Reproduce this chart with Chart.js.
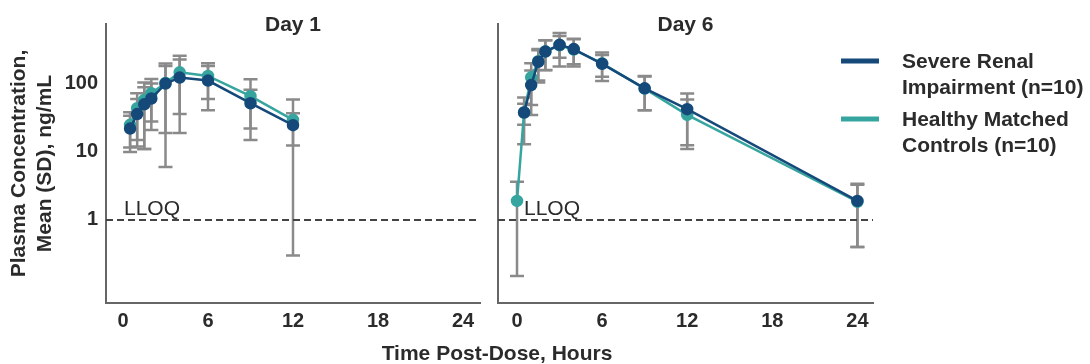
<!DOCTYPE html>
<html>
<head>
<meta charset="utf-8">
<script src="https://cdn.jsdelivr.net/npm/chart.js@4.4.1/dist/chart.umd.min.js"></script>
<style>
  html, body { margin: 0; padding: 0; background: #fff; }
  #wrap { position: relative; width: 1090px; height: 364px; }
  #wrap canvas { position: absolute; left: 0; top: 0; }
</style>
</head>
<body>
<div id="wrap">
  <canvas id="day1" width="1090" height="364"></canvas>
  <canvas id="day6" width="1090" height="364"></canvas>
</div>
<script>
// data (mean and SD, ng/mL)
const seriesNames = [['Severe Renal', 'Impairment (n=10)'], ['Healthy Matched', 'Controls (n=10)']];
const panelTitles = ['Day 1', 'Day 6'];
const xTicks = [0, 6, 12, 18, 24];
const yTicks = [1, 10, 100];

const day1Times = [0.5, 1, 1.5, 2, 3, 4, 6, 9, 12];
const day1Renal = [22, 36, 50, 61, 101, 124, 112, 52, 24.7];
const day1RenalSd = [12, 24, 39, 40, 82, 105, 71, 30, 12.3];
const day1Healthy = [25, 44, 58, 73, 103, 148, 131, 66, 29.6];
const day1HealthySd = [13.4, 29, 47, 45, 97, 112, 71, 51, 29.3];

const day6Times = [0, 0.5, 1, 1.5, 2, 3, 4, 6, 9, 12, 24];
const day6Renal = [null, 38, 96, 212, 299, 375, 325, 197, 86, 42.5, 1.9];
const day6RenalSd = [0, 25, 61, 100, 140, 133, 130, 70, 45, 30, 1.5];
const day6Healthy = [1.9, 38, 125, 215, 300, 370, 320, 200, 85, 35, 1.85];
const day6HealthySd = [1.75, 13, 76, 110, 140, 190, 140, 90, 44, 24, 1.45];

const LLOQ = 1;

const navy = '#15497a';
const teal = '#37a59f';
const textColor = '#2b2b2b';
const fontFamily = "'Liberation Sans', Arial, sans-serif";

function pts(times, vals) {
    return times.map((t, i) => ({ x: t, y: vals[i] }));
}

// vertical mean +/- SD bars with caps
const errorBars = {
    id: 'errorBars',
    beforeDatasetsDraw(chart) {
        const { ctx, scales: { x, y } } = chart;
        ctx.save();
        ctx.strokeStyle = '#8a8a8a';
        ctx.lineWidth = 2.5;
        chart.data.datasets.forEach(ds => {
            ds.data.forEach((p, i) => {
                if (p.y == null) return;
                const sd = ds.sd[i];
                const px = x.getPixelForValue(p.x);
                const top = y.getPixelForValue(p.y + sd);
                const lowVal = p.y - sd;
                const bottom = lowVal > y.min ? y.getPixelForValue(lowVal) : y.bottom;
                ctx.beginPath();
                ctx.moveTo(px, top);
                ctx.lineTo(px, bottom);
                ctx.moveTo(px - 7, top);
                ctx.lineTo(px + 7, top);
                if (lowVal > y.min) {
                    ctx.moveTo(px - 7, bottom);
                    ctx.lineTo(px + 7, bottom);
                }
                ctx.stroke();
            });
        });
        ctx.restore();
    }
};

// LLOQ dashed line, panel title, shared x title and legend
const panelDecor = {
    id: 'panelDecor',
    beforeDatasetsDraw(chart, args, opts) {
        const { ctx, chartArea, scales: { y } } = chart;
        const yy = y.getPixelForValue(LLOQ);
        ctx.save();
        ctx.strokeStyle = '#444';
        ctx.lineWidth = 2;
        ctx.setLineDash([7, 4]);
        ctx.beginPath();
        ctx.moveTo(chartArea.left, yy);
        ctx.lineTo(chartArea.right, yy);
        ctx.stroke();
        ctx.setLineDash([]);
        ctx.fillStyle = textColor;
        ctx.font = '21px ' + fontFamily;
        ctx.textBaseline = 'alphabetic';
        ctx.fillText('LLOQ', chartArea.left + opts.lloqOffset, yy - 5);
        ctx.font = 'bold 21px ' + fontFamily;
        ctx.textAlign = 'center';
        ctx.textBaseline = 'middle';
        ctx.fillText(opts.title, (chartArea.left + chartArea.right) / 2, 25);
        ctx.restore();
    },
    afterDraw(chart, args, opts) {
        const { ctx } = chart;
        ctx.save();
        ctx.fillStyle = textColor;
        if (opts.xTitle) {
            ctx.font = 'bold 21px ' + fontFamily;
            ctx.textAlign = 'center';
            ctx.textBaseline = 'middle';
            ctx.fillText(opts.xTitle, 497, 354);
        }
        if (opts.legend) {
            chart.data.datasets.forEach((ds, i) => {
                const y0 = 61 + i * 58;
                ctx.strokeStyle = ds.borderColor;
                ctx.lineWidth = 5;
                ctx.beginPath();
                ctx.moveTo(841, y0);
                ctx.lineTo(879, y0);
                ctx.stroke();
                ctx.font = 'bold 21px ' + fontFamily;
                ctx.textAlign = 'left';
                ctx.textBaseline = 'middle';
                seriesNames[i].forEach((line, j) => {
                    ctx.fillText(line, 902, y0 + 1 + j * 26);
                });
            });
        }
        ctx.restore();
    }
};

function makeDatasets(times, renal, renalSd, healthy, healthySd) {
    const common = { borderWidth: 2.5, pointRadius: 5, pointHoverRadius: 5, tension: 0, spanGaps: true };
    return [
        Object.assign({ label: seriesNames[0].join(' '), data: pts(times, renal), sd: renalSd,
            borderColor: navy, backgroundColor: navy, pointBackgroundColor: navy, pointBorderColor: navy }, common),
        Object.assign({ label: seriesNames[1].join(' '), data: pts(times, healthy), sd: healthySd,
            borderColor: teal, backgroundColor: teal, pointBackgroundColor: teal, pointBorderColor: teal }, common)
    ];
}

function makeChart(id, datasets, cfg) {
    return new Chart(document.getElementById(id), {
        type: 'line',
        data: { datasets: datasets },
        plugins: [errorBars, panelDecor],
        options: {
            responsive: false,
            animation: false,
            events: [],
            layout: { padding: { top: 24, right: cfg.padRight, left: 0, bottom: 0 } },
            plugins: {
                legend: { display: false },
                tooltip: { enabled: false },
                panelDecor: { title: cfg.title, lloqOffset: cfg.lloqOffset, xTitle: cfg.xTitle, legend: cfg.legend }
            },
            scales: {
                x: {
                    type: 'linear',
                    min: cfg.xMin,
                    max: cfg.xMax,
                    grid: { display: false, drawTicks: false },
                    border: { display: true, color: '#666', width: 2 },
                    afterBuildTicks: s => { s.ticks = xTicks.map(v => ({ value: v })); },
                    afterFit: s => { s.height = 61; },
                    ticks: { color: textColor, padding: 6, font: { family: fontFamily, size: 20, weight: 'bold' } }
                },
                y: {
                    type: 'logarithmic',
                    min: 0.06,
                    max: 760,
                    grid: { display: false, drawTicks: false },
                    border: { display: true, color: '#666', width: 2 },
                    afterBuildTicks: s => { s.ticks = yTicks.map(v => ({ value: v })); },
                    afterFit: s => { s.width = cfg.yWidth; },
                    ticks: {
                        display: cfg.yLabels,
                        color: textColor,
                        padding: 8,
                        font: { family: fontFamily, size: 20, weight: 'bold' },
                        callback: v => String(v)
                    },
                    title: {
                        display: cfg.yLabels,
                        text: ['Plasma Concentration,', 'Mean (SD), ng/mL'],
                        color: textColor,
                        padding: { top: 7, bottom: 0 },
                        font: { family: fontFamily, size: 21, weight: 'bold', lineHeight: 1.2 }
                    }
                }
            }
        }
    });
}

makeChart('day1', makeDatasets(day1Times, day1Renal, day1RenalSd, day1Healthy, day1HealthySd), {
    title: panelTitles[0], padRight: 1090 - 480, yWidth: 106, xMin: -1.2, xMax: 25.2,
    yLabels: true, lloqOffset: 18, xTitle: 'Time Post-Dose, Hours', legend: false
});

makeChart('day6', makeDatasets(day6Times, day6Renal, day6RenalSd, day6Healthy, day6HealthySd), {
    title: panelTitles[1], padRight: 1090 - 873, yWidth: 498, xMin: -1.34, xMax: 25.1,
    yLabels: false, lloqOffset: 26, xTitle: null, legend: true
});
</script>
</body>
</html>
